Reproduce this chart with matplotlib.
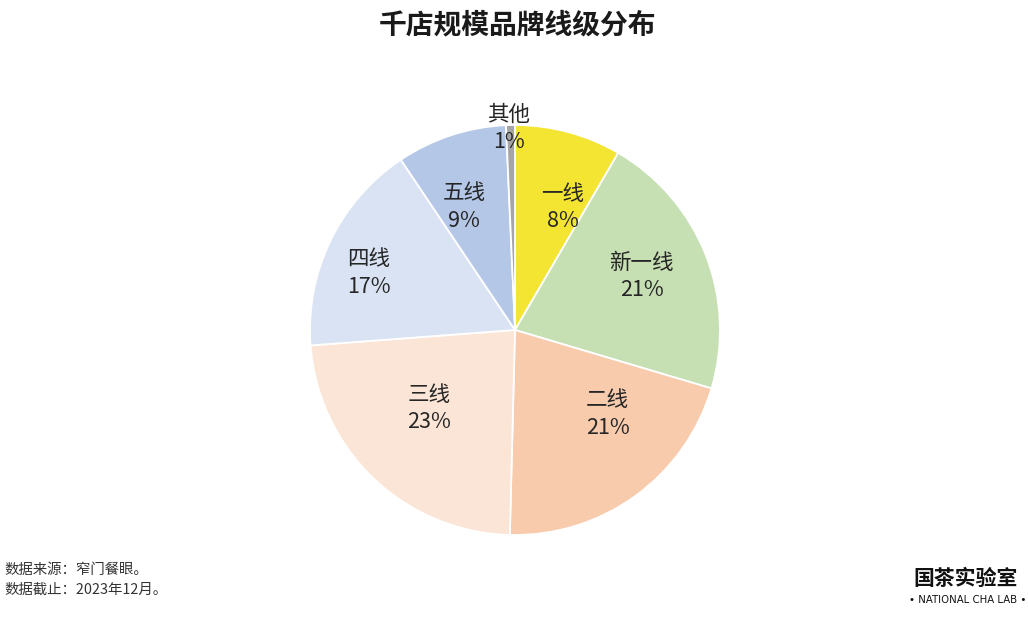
import matplotlib
matplotlib.use("Agg")
import matplotlib.pyplot as plt

plt.rcParams['font.family'] = ['Noto Sans CJK SC', 'DejaVu Sans']

categories = ["一线", "新一线", "二线", "三线", "四线", "五线", "其他"]
shares = [8.4, 21.2, 20.8, 23.4, 16.8, 8.7, 0.7]
colors = ["#F3E532", "#C6E0B4", "#F8CBAD", "#FBE5D6", "#DAE3F3", "#B4C7E7", "#A5A5A5"]
# label anchor positions (pie units, radius 1)
label_pos = [(0.233, 0.598), (0.617, 0.262), (0.452, -0.41), (-0.417, -0.383),
             (-0.713, 0.278), (-0.247, 0.6), (-0.03, 0.983)]

title = "千店规模品牌线级分布"
source_lines = ["数据来源：窄门餐眼。", "数据截止：2023年12月。"]

W, H = 1028, 624
fig = plt.figure(figsize=(W / 100, H / 100), dpi=100)
fig.patch.set_facecolor("white")

cx, cy, r = 515, 330, 205
ax = fig.add_axes([(cx - r) / W, (H - cy - r) / H, 2 * r / W, 2 * r / H])
ax.pie(shares, colors=colors, startangle=90, counterclock=False, radius=1,
       wedgeprops=dict(edgecolor="white", linewidth=1.3))
ax.set_xlim(-1, 1)
ax.set_ylim(-1, 1)
ax.set_aspect("equal")
ax.axis("off")

for name, val, (lx, ly) in zip(categories, shares, label_pos):
    ax.text(lx, ly, f"{name}\n{round(val):d}%", ha="center", va="center", fontsize=15.5,
            color="#262626", linespacing=1.3, clip_on=False)

fig.text(517 / W, 1 - 25 / H, title, ha="center", va="center", fontsize=20,
         fontweight="bold", color="#1a1a1a")

fig.text(4 / W, 1 - 570 / H, source_lines[0], ha="left", va="center", fontsize=10.4, color="#333333")
fig.text(4 / W, 1 - 590 / H, source_lines[1], ha="left", va="center", fontsize=10.4, color="#333333")

# logo
fig.text(966 / W, 1 - 578 / H, "国茶实验室", ha="center", va="center", fontsize=15,
         fontweight="heavy", color="#111111")
fig.text(968 / W, 1 - 600 / H, "• NATIONAL CHA LAB •", ha="center", va="center", fontsize=7.3,
         color="#111111", family=["DejaVu Sans"])

fig.savefig("out.png", dpi=100, facecolor="white")
